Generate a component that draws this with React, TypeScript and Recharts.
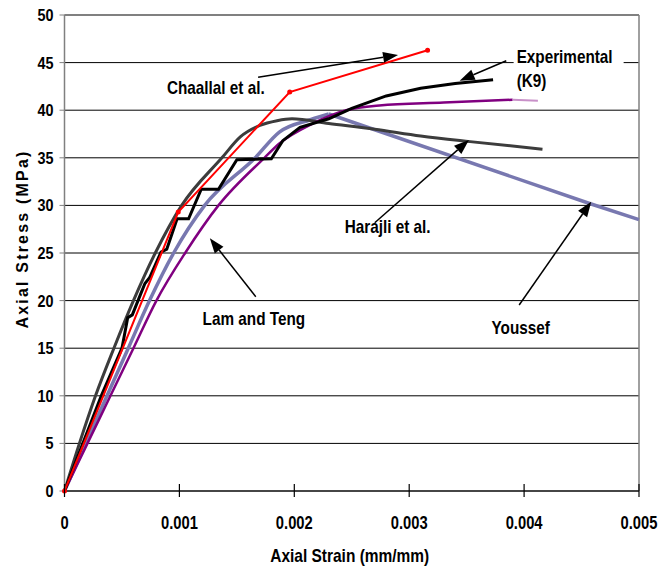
import React from 'react';
import { LineChart, Line, XAxis, YAxis, CartesianGrid, ReferenceLine, ReferenceDot } from 'recharts';

const FONT = "'Liberation Sans', Arial, sans-serif";
const SX = 0.85; // horizontal condensing of the bold sans text

// axis ticks
const xTicks = [0, 0.001, 0.002, 0.003, 0.004, 0.005];
const yTicks = [0, 5, 10, 15, 20, 25, 30, 35, 40, 45, 50];

// series: [strain, stress]
const experimentalK9 = [
  [0, 0], [0.00016, 5], [0.00032, 10], [0.0005, 15], [0.00055, 18.2], [0.00059, 18.5],
  [0.00066, 20.6], [0.0007, 21.8], [0.00074, 22.4], [0.00084, 25.1], [0.00089, 25.4],
  [0.00098, 28.6], [0.00108, 28.6], [0.00119, 31.7], [0.00134, 31.7], [0.0015, 34.8],
  [0.0018, 34.9], [0.0019, 36.8], [0.00205, 38.2], [0.0023, 39.1], [0.0025, 40.2],
  [0.0028, 41.5], [0.0031, 42.3], [0.0034, 42.8], [0.00373, 43.2],
];
const chaallal = [[0, 0], [0.00099, 29.3], [0.00196, 41.9], [0.00316, 46.3]];
const harajli = [
  [0, 0], [0.00013, 5], [0.00027, 10], [0.00043, 15], [0.0006, 20], [0.00079, 25],
  [0.00102, 30], [0.00137, 35], [0.00153, 37.2], [0.0017, 38.4], [0.00185, 38.9],
  [0.00198, 39.1], [0.0023, 38.6], [0.0027, 38.0], [0.0031, 37.3], [0.00353, 36.7],
  [0.00416, 35.9],
];
const lamTeng = [
  [0, 0], [0.0002, 5], [0.0004, 10], [0.0006, 15], [0.0008, 20], [0.00105, 25],
  [0.00134, 30], [0.00174, 35], [0.00187, 36.5], [0.00216, 38.6], [0.00245, 40.0],
  [0.00274, 40.5], [0.0033, 40.8], [0.0039, 41.1],
];
const lamTengTail = [[0.0039, 41.1], [0.00412, 41.0]];
const youssefRise = [
  [0, 0], [0.000185, 5], [0.00037, 10], [0.000555, 15], [0.00074, 20], [0.00095, 25],
  [0.00122, 30], [0.00166, 35], [0.00187, 37.7], [0.00214, 39.0], [0.0023, 39.6],
];
const youssefFall = [[0.0023, 39.6], [0.00457, 30.2], [0.005, 28.5]];

// annotation labels: [text, strain, stress, anchor]
const labels: [string, number, number, string][] = [
  ['Chaallal et al.', 0.001317, 41.7, 'middle'],
  ['Experimental', 0.003935, 45.0, 'start'],
  ['(K9)', 0.003935, 42.4, 'start'],
  ['Harajli et al.', 0.002813, 27.1, 'middle'],
  ['Lam and Teng', 0.001648, 17.4, 'middle'],
  ['Youssef', 0.00397, 16.5, 'middle'],
];
// arrows: tail -> tip
const arrows: [number, number, number, number][] = [
  [0.001685, 43.46, 0.002903, 45.8],
  [0.003845, 45.2, 0.003439, 43.1],
  [0.0027, 28.18, 0.00352, 36.87],
  [0.001665, 20.4, 0.001265, 26.55],
  [0.003957, 19.54, 0.004584, 30.39],
];

const toPts = (a: number[][]) => a.map(([x, y]) => ({ x, y }));

const SText = (p: { x: number; y: number; size: number; anchor?: string; sx?: number; children: any }) => (
  <text
    transform={`translate(${p.x},${p.y}) scale(${p.sx ?? SX},1)`}
    x={0}
    y={0}
    textAnchor={(p.anchor || 'middle') as any}
    fontFamily={FONT}
    fontWeight="bold"
    fontSize={p.size}
    fill="#000"
  >
    {p.children}
  </text>
);

const XTick = (props: any) => {
  const { x, y, payload } = props;
  return (
    <g>
      <line x1={x} x2={x} y1={y - 7} y2={y + 6} stroke="#000" strokeWidth={1.2} />
      <SText x={x} y={y + 38} size={18} sx={0.82}>{String(payload.value)}</SText>
    </g>
  );
};

const YTick = (props: any) => {
  const { x, y, payload } = props;
  return <SText x={x} y={y + 6} size={16} sx={0.9} anchor="end">{String(payload.value)}</SText>;
};

const arrowShape = (p: any) => {
  const { x1, y1, x2, y2 } = p;
  const ang = Math.atan2(y2 - y1, x2 - x1);
  const L = 15, W = 5.5;
  const bx = x2 - L * Math.cos(ang), by = y2 - L * Math.sin(ang);
  const px = -Math.sin(ang) * W, py = Math.cos(ang) * W;
  return (
    <g>
      <line x1={x1} y1={y1} x2={bx} y2={by} stroke="#000" strokeWidth={1.5} />
      <polygon points={`${x2},${y2} ${bx + px},${by + py} ${bx - px},${by - py}`} fill="#000" />
    </g>
  );
};

const labelShape = (text: string, anchor: string) => (p: any) => {
  const { cx, cy } = p;
  return (
    <g>
      {text === 'Experimental' && <rect x={cx - 3} y={cy - 15} width={110} height={19} fill="#fff" />}
      <SText x={cx} y={cy} size={18} anchor={anchor}>{text}</SText>
    </g>
  );
};

export default function App() {
  return (
    <div style={{ position: 'absolute', left: 0, top: 0, width: 661, height: 571, background: '#fff' }}>
      <LineChart width={661} height={571} margin={{ top: 15, right: 22, bottom: 0, left: 0 }}>
        <CartesianGrid horizontal vertical={false} stroke="#000" strokeWidth={1} />
        <XAxis
          type="number"
          dataKey="x"
          domain={[0, 0.005]}
          ticks={xTicks}
          height={80}
          tickSize={0}
          tickMargin={0}
          tickLine={false}
          axisLine={{ stroke: '#333', strokeWidth: 1.5 }}
          tick={<XTick />}
          label={{
            content: (p: any) => {
              const vb = p.viewBox || { x: 64.5, width: 574.5, y: 491, height: 80 };
              return (
                <SText x={vb.x + vb.width / 2 - 2} y={vb.y + 71} size={18} sx={0.86}>
                  Axial Strain (mm/mm)
                </SText>
              );
            },
          }}
        />
        <YAxis
          type="number"
          domain={[0, 50]}
          ticks={yTicks}
          width={64.5}
          tickSize={5}
          tickMargin={6}
          tickLine={{ stroke: '#808080' }}
          axisLine={{ stroke: '#808080', strokeWidth: 1.5 }}
          tick={<YTick />}
          label={{
            content: (p: any) => {
              const vb = p.viewBox || { x: 0, y: 15, width: 64.5, height: 476 };
              const cx = 28;
              const cy = vb.y + vb.height / 2 - 14;
              return (
                <text x={cx} y={cy} transform={`rotate(-90 ${cx} ${cy})`} textAnchor="middle" fontFamily={FONT} fontWeight="bold" fontSize={16} letterSpacing={2.2} fill="#000">
                  Axial Stress (MPa)
                </text>
              );
            },
          }}
        />
        <ReferenceLine y={50} stroke="#808080" strokeWidth={1.5} />
        <ReferenceLine x={0.005} stroke="#808080" strokeWidth={1.5} />
        <Line data={toPts(youssefRise)} dataKey="y" type="monotone" stroke="#7878B0" strokeWidth={3.5} dot={false} isAnimationActive={false} />
        <Line data={toPts(youssefFall)} dataKey="y" type="linear" stroke="#7878B0" strokeWidth={3.5} dot={false} isAnimationActive={false} />
        <Line data={toPts(harajli)} dataKey="y" type="monotone" stroke="#3C3C3C" strokeWidth={3} dot={false} isAnimationActive={false} />
        <Line data={toPts(lamTeng)} dataKey="y" type="monotone" stroke="#800080" strokeWidth={2.5} dot={false} isAnimationActive={false} />
        <Line data={toPts(lamTengTail)} dataKey="y" type="linear" stroke="#C890C8" strokeWidth={2} dot={false} isAnimationActive={false} />
        <Line data={toPts(experimentalK9)} dataKey="y" type="linear" stroke="#000" strokeWidth={3} dot={false} isAnimationActive={false} />
        <Line data={toPts(chaallal)} dataKey="y" type="linear" stroke="#FF0000" strokeWidth={2} dot={{ r: 1.5, fill: '#FF0000', stroke: '#FF0000' }} isAnimationActive={false} />
        {arrows.map((a, i) => (
          <ReferenceLine key={'a' + i} segment={[{ x: a[0], y: a[1] }, { x: a[2], y: a[3] }]} shape={arrowShape} ifOverflow="visible" />
        ))}
        {labels.map((l, i) => (
          <ReferenceDot key={'l' + i} x={l[1]} y={l[2]} r={0} shape={labelShape(l[0], l[3])} ifOverflow="visible" />
        ))}
      </LineChart>
    </div>
  );
}
